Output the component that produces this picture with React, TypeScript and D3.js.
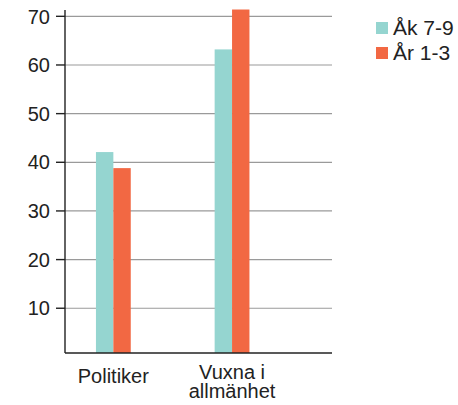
import React from "react";
import * as d3 from "d3";

const categories: string[][] = [["Politiker"], ["Vuxna i", "allmänhet"]];
const categoryKeys = ["Politiker", "Vuxna i allmänhet"];
const seriesNames = ["Åk 7-9", "År 1-3"];
const seriesColors = ["#95d5d0", "#f26843"];
const akValues = [42.1, 63.2];
const arValues = [38.8, 71.4];
const yTicks = [10, 20, 30, 40, 50, 60, 70];

const W = 458;
const H = 405;
const plotLeft = 65;
const plotRight = 332;
const plotTop = 10;
const plotBottom = 353;
const FONT = "'Liberation Sans', Arial, Helvetica, sans-serif";

export default function App() {
  const y = d3.scaleLinear().domain([0.8, 71.3]).range([plotBottom, plotTop]);
  const x = d3
    .scaleBand<string>()
    .domain(categoryKeys)
    .range([54, 291.4])
    .paddingInner(0)
    .paddingOuter(0);
  const barW = 17.4;
  const series = [akValues, arValues];

  return (
    <svg
      width={W}
      height={H}
      style={{ position: "absolute", left: 0, top: 0, background: "#fff" }}
      fontFamily={FONT}
    >
      {yTicks.map((t) => (
        <line
          key={"g" + t}
          x1={plotLeft}
          x2={plotRight}
          y1={y(t)}
          y2={y(t)}
          stroke="#9a9a9a"
          strokeWidth={1.2}
        />
      ))}
      {categoryKeys.map((c, i) => {
        const cx = (x(c) as number) + x.bandwidth() / 2;
        return series.map((vals, s) => (
          <rect
            key={c + s}
            x={cx - barW + s * barW}
            y={y(vals[i])}
            width={barW}
            height={plotBottom - y(vals[i])}
            fill={seriesColors[s]}
          />
        ));
      })}
      <line x1={plotLeft} x2={plotLeft} y1={plotTop} y2={plotBottom} stroke="#222" strokeWidth={1.4} />
      <line x1={plotLeft} x2={plotRight} y1={plotBottom} y2={plotBottom} stroke="#222" strokeWidth={1.4} />
      {yTicks.map((t) => (
        <g key={"t" + t}>
          <line x1={56} x2={plotLeft} y1={y(t)} y2={y(t)} stroke="#222" strokeWidth={1.4} />
          <text x={50} y={y(t)} dy="0.36em" textAnchor="end" fontSize={20} fill="#222">
            {t}
          </text>
        </g>
      ))}
      {categoryKeys.map((c, i) => {
        const cx = (x(c) as number) + x.bandwidth() / 2;
        const lines = categories[i];
        const baseY = lines.length === 1 ? 383 : 379;
        return (
          <text key={"c" + c} x={cx} y={baseY} textAnchor="middle" fontSize={20} fill="#222">
            {lines.map((line, j) => (
              <tspan key={j} x={cx} dy={j === 0 ? 0 : 19}>
                {line}
              </tspan>
            ))}
          </text>
        );
      })}
      {seriesNames.map((n, i) => (
        <g key={"l" + n} transform={`translate(376, ${22 + i * 25})`}>
          <rect x={0} y={0} width={12} height={12} fill={seriesColors[i]} />
          <text x={17} y={12.5} fontSize={21} fill="#222">
            {n}
          </text>
        </g>
      ))}
    </svg>
  );
}
